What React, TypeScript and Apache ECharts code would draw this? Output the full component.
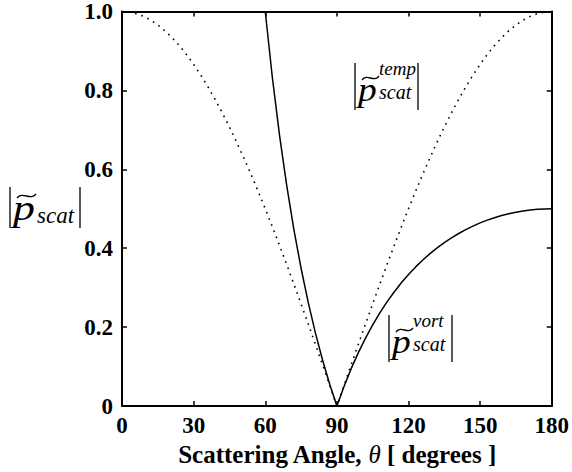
import React, { useEffect, useRef } from "react";
import * as echarts from "echarts";

// Scattering angle (degrees) for the temperature-mode curve (dotted)
const angleTemp = [
  0, 3, 6, 9, 12, 15, 18, 21, 24, 27, 30, 33, 36, 39, 42, 45, 48, 51, 54, 57,
  60, 63, 66, 69, 72, 75, 78, 81, 84, 87, 90, 93, 96, 99, 102, 105, 108, 111,
  114, 117, 120, 123, 126, 129, 132, 135, 138, 141, 144, 147, 150, 153, 156,
  159, 162, 165, 168, 171, 174, 177, 180,
];
const pTemp = [
  1.0, 0.9986, 0.9945, 0.9877, 0.9781, 0.9659, 0.9511, 0.9336, 0.9135, 0.891,
  0.866, 0.8387, 0.809, 0.7771, 0.7431, 0.7071, 0.6691, 0.6293, 0.5878, 0.5446,
  0.5, 0.454, 0.4067, 0.3584, 0.309, 0.2588, 0.2079, 0.1564, 0.1045, 0.0523,
  0.0, 0.0523, 0.1045, 0.1564, 0.2079, 0.2588, 0.309, 0.3584, 0.4067, 0.454,
  0.5, 0.5446, 0.5878, 0.6293, 0.6691, 0.7071, 0.7431, 0.7771, 0.809, 0.8387,
  0.866, 0.891, 0.9135, 0.9336, 0.9511, 0.9659, 0.9781, 0.9877, 0.9945, 0.9986,
  1.0,
];

// Scattering angle (degrees) for the vorticity-mode curve (solid)
const angleVort = [
  60, 63, 66, 69, 72, 75, 78, 81, 84, 87, 90, 93, 96, 99, 102, 105, 108, 111,
  114, 117, 120, 123, 126, 129, 132, 135, 138, 141, 144, 147, 150, 153, 156,
  159, 162, 165, 168, 171, 174, 177, 180,
];
const pVort = [
  1.0, 0.8315, 0.6855, 0.5586, 0.4472, 0.3492, 0.2625, 0.1854, 0.1167, 0.0552,
  0.0, 0.0497, 0.0946, 0.1353, 0.1721, 0.2056, 0.2361, 0.2638, 0.2891, 0.3122,
  0.3333, 0.3526, 0.3702, 0.3862, 0.4009, 0.4142, 0.4263, 0.4373, 0.4472,
  0.4561, 0.4641, 0.4712, 0.4774, 0.4828, 0.4875, 0.4913, 0.4945, 0.4969,
  0.4986, 0.4996, 0.5,
];

const xTicks = [0, 30, 60, 90, 120, 150, 180];
const yTicks = [0, 0.2, 0.4, 0.6, 0.8, 1.0];

const SERIF = "'Times New Roman', 'Liberation Serif', Times, serif";

function txt(x: number, baseline: number, s: string, size: number, sx = 1) {
  return {
    type: "text",
    x,
    y: baseline - 0.33 * size,
    scaleX: sx,
    style: {
      text: s,
      fontFamily: SERIF,
      fontStyle: "italic",
      fontSize: size,
      fill: "#000",
      align: "left",
      verticalAlign: "middle",
    },
  };
}

function bar(x: number, y1: number, y2: number) {
  return {
    type: "line",
    shape: { x1: x, y1, x2: x, y2 },
    style: { stroke: "#000", lineWidth: 1.3 },
  };
}

function tilde(x: number, y: number, w: number) {
  return {
    type: "bezierCurve",
    shape: {
      x1: x,
      y1: y + 2,
      cpx1: x + w * 0.3,
      cpy1: y - 5,
      cpx2: x + w * 0.7,
      cpy2: y + 5,
      x2: x + w,
      y2: y - 2,
    },
    style: { stroke: "#000", lineWidth: 1.3, fill: null },
  };
}

function absLabel(x0: number, T: number, sup: string) {
  return [
    bar(x0, T, T + 47),
    txt(x0 + 3, T + 38, "p", 34, 1.1),
    tilde(x0 + 7, T + 15, 17),
    txt(x0 + 24, T + 12, sup, 19),
    txt(x0 + 24, T + 36, "scat", 20),
    bar(x0 + 63, T, T + 47),
  ];
}

export default function App() {
  const ref = useRef<HTMLDivElement>(null);
  useEffect(() => {
    if (!ref.current) return;
    const chart = echarts.init(ref.current, null, { renderer: "svg" });
    const axisLine = { show: true, onZero: false, lineStyle: { color: "#000", width: 2 } };
    const axisTick = { show: true, inside: true, length: 5, lineStyle: { color: "#000", width: 1.5 } };
    const labelStyle = {
      color: "#000",
      fontFamily: SERIF,
      fontWeight: "bold",
      fontSize: 23,
    };
    chart.setOption({
      animation: false,
      backgroundColor: "#fff",
      textStyle: { fontFamily: SERIF },
      grid: { left: 122, right: 20, top: 11, bottom: 63 },
      xAxis: [
        {
          type: "value",
          min: xTicks[0],
          max: xTicks[xTicks.length - 1],
          interval: 30,
          position: "bottom",
          axisLine,
          axisTick,
          splitLine: { show: false },
          axisLabel: { ...labelStyle, margin: 8 },
          name: "{b|Scattering Angle,}{t| θ}{b| [ degrees ]}",
          nameLocation: "middle",
          nameGap: 36,
          nameTextStyle: {
            rich: {
              b: { fontFamily: SERIF, fontWeight: "bold", fontSize: 25, color: "#000" },
              t: { fontFamily: SERIF, fontStyle: "italic", fontSize: 25, color: "#000" },
            },
          },
        },
        {
          type: "value",
          min: xTicks[0],
          max: xTicks[xTicks.length - 1],
          interval: 30,
          position: "top",
          axisLine,
          axisTick,
          splitLine: { show: false },
          axisLabel: { show: false },
        },
      ],
      yAxis: [
        {
          type: "value",
          min: yTicks[0],
          max: yTicks[yTicks.length - 1],
          interval: 0.2,
          position: "left",
          axisLine,
          axisTick,
          splitLine: { show: false },
          axisLabel: {
            ...labelStyle,
            margin: 9,
            formatter: (v: number) => (v === 0 ? "0" : v.toFixed(1)),
          },
        },
        {
          type: "value",
          min: yTicks[0],
          max: yTicks[yTicks.length - 1],
          interval: 0.2,
          position: "right",
          axisLine,
          axisTick,
          splitLine: { show: false },
          axisLabel: { show: false },
        },
      ],
      series: [
        {
          type: "line",
          data: angleTemp.map((a, i) => [a, pTemp[i]]),
          symbol: "none",
          clip: true,
          lineStyle: { color: "#000", width: 1.6, type: [1.6, 5], cap: "butt" },
        },
        {
          type: "line",
          data: angleVort.map((a, i) => [a, pVort[i]]),
          symbol: "none",
          clip: true,
          lineStyle: { color: "#000", width: 1.5, type: "solid" },
        },
      ],
      graphic: [
        // y-axis label |p~_scat|
        bar(10, 187, 228),
        txt(13, 220, "p", 35, 1.25),
        tilde(17, 196, 19),
        txt(37, 223, "scat", 23),
        bar(80, 187, 228),
        // curve annotations
        ...absLabel(355, 63, "temp"),
        ...absLabel(389, 315, "vort"),
      ],
    });
    return () => chart.dispose();
  }, []);
  return (
    <div
      ref={ref}
      style={{ position: "fixed", left: 0, top: 0, width: 572, height: 472 }}
    />
  );
}
